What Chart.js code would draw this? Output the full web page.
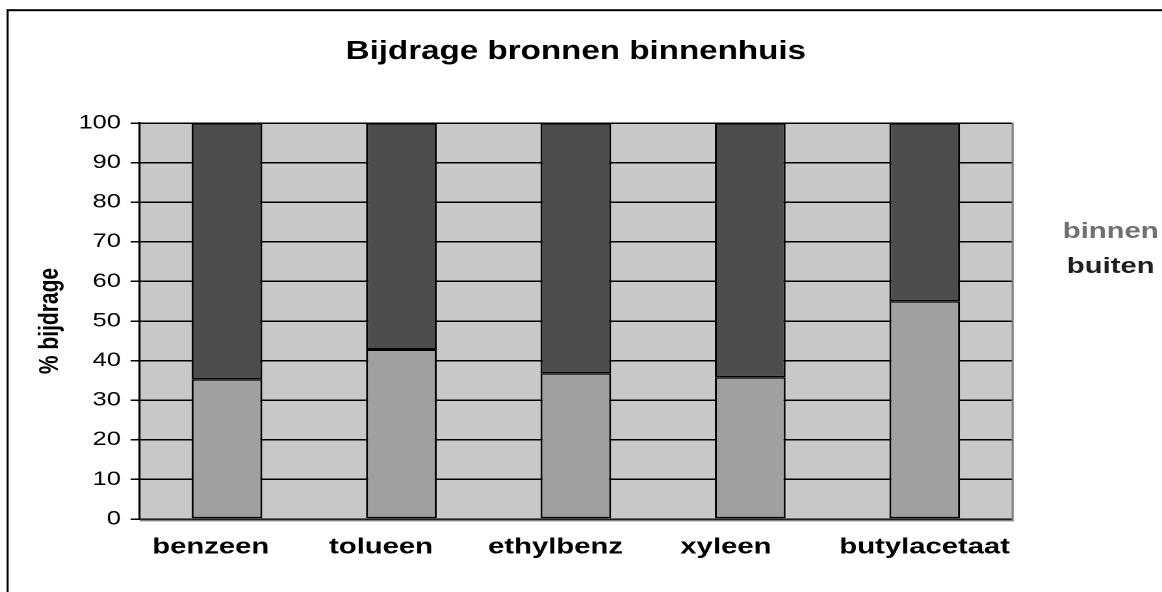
<!DOCTYPE html>
<html>
<head>
<meta charset="utf-8">
<script src="https://cdn.jsdelivr.net/npm/chart.js@4.4.1/dist/chart.umd.min.js"></script>
<style>
  html, body { margin: 0; padding: 0; background: #fff; overflow: hidden; }
  #wrap { position: absolute; left: 0; top: 0; width: 894px; height: 592px;
          transform: scaleX(1.2998); transform-origin: 0 0; }
</style>
</head>
<body>
<div id="wrap"><canvas id="c"></canvas></div>
<script>
// ---- data ----
const categories = ['benzeen', 'tolueen', 'ethylbenz', 'xyleen', 'butylacetaat'];
const binnen = [35.3, 42.8, 36.8, 35.8, 55.0];
const buiten = [64.7, 57.2, 63.2, 64.2, 45.0];
const yMin = 0, yMax = 100, yStep = 10;
const titleText = 'Bijdrage bronnen binnenhuis';
const yTitleText = '% bijdrage';
const seriesNames = ['binnen', 'buiten'];

// ---- styling ----
const FONT = "'Liberation Sans', Arial, Helvetica, sans-serif";
const legendColors = ['#707070', '#1e1e1e'];
// trailing blanks used to nudge each category label slightly left, as in the original
const labelShift = [4, 5, 5, 6, 0];

const decor = {
  id: 'decor',
  beforeDraw(chart) {
    const {ctx, chartArea: a} = chart;
    ctx.save();
    ctx.fillStyle = '#ffffff';
    ctx.fillRect(0, 0, chart.width, chart.height);
    ctx.fillStyle = '#000000';
    ctx.fillRect(5.1, 9.2, chart.width, 2);
    ctx.fillRect(5.1, 9.2, 1.55, chart.height);
    ctx.fillStyle = '#c8c8c8';
    ctx.fillRect(a.left, a.top, a.right - a.left, a.bottom - a.top);
    ctx.restore();
  },
  beforeDatasetsDraw(chart) {
    const {ctx, chartArea: a} = chart;
    ctx.save();
    ctx.strokeStyle = '#808080';
    ctx.lineWidth = 1.6;
    ctx.beginPath();
    ctx.moveTo(a.right + 0.6, a.top - 0.5);
    ctx.lineTo(a.right + 0.6, a.bottom + 1.6);
    ctx.lineTo(a.left, a.bottom + 1.6);
    ctx.stroke();
    ctx.restore();
  },
  afterDraw(chart) {
    const {ctx} = chart;
    ctx.save();
    ctx.font = "bold 22.5px " + FONT;
    ctx.textAlign = 'center';
    ctx.textBaseline = 'alphabetic';
    chart.data.datasets.forEach((ds, i) => {
      ctx.fillStyle = legendColors[i];
      ctx.fillText(ds.label, 854.5, 237.8 + i * 35);
    });
    ctx.restore();
  }
};

new Chart(document.getElementById('c'), {
  type: 'bar',
  data: {
    labels: categories,
    datasets: [
      { label: seriesNames[0], data: binnen, backgroundColor: '#a0a0a0',
        borderColor: '#000000', borderWidth: 1.5, borderSkipped: false },
      { label: seriesNames[1], data: buiten, backgroundColor: '#4d4d4d',
        borderColor: '#000000', borderWidth: 1.5, borderSkipped: false }
    ]
  },
  options: {
    responsive: true,
    maintainAspectRatio: false,
    devicePixelRatio: 2,
    animation: false,
    layout: { padding: { left: 0, right: 115.5, top: 0, bottom: 0 } },
    datasets: { bar: { barPercentage: 0.405, categoryPercentage: 1.0 } },
    plugins: {
      legend: { display: false },
      tooltip: { enabled: false },
      title: {
        display: true, fullSize: false, text: titleText, color: '#000000',
        font: { family: FONT, size: 25.5, weight: 'bold', lineHeight: 1.2 },
        padding: { top: 36.8, bottom: 55.6 }
      }
    },
    scales: {
      x: {
        stacked: true,
        grid: { display: false, drawTicks: false },
        border: { display: false },
        ticks: { color: '#000000', padding: 14.7, maxRotation: 0, autoSkip: false,
                 font: { family: FONT, size: 22.5, weight: 'bold', lineHeight: 1.2 },
                 callback(v, i) { return categories[i] + ' '.repeat(labelShift[i]); } },
        afterFit(s) { s.height = 73; }
      },
      y: {
        stacked: true,
        min: yMin, max: yMax,
        ticks: { stepSize: yStep, color: '#000000', padding: 7.5,
                 font: { family: FONT, size: 19.5, lineHeight: 1.2 } },
        grid: { color: '#000000', lineWidth: 1.5, tickLength: 7, tickColor: '#000000' },
        border: { display: true, color: '#000000', width: 1.6 },
        title: { display: true, text: yTitleText, color: '#000000',
                 font: { family: FONT, size: 21, weight: 'bold', lineHeight: 1.2 },
                 padding: { top: 26.3, bottom: 0 } },
        afterFit(s) { s.width = 107.5; }
      }
    }
  },
  plugins: [decor]
});
</script>
</body>
</html>
